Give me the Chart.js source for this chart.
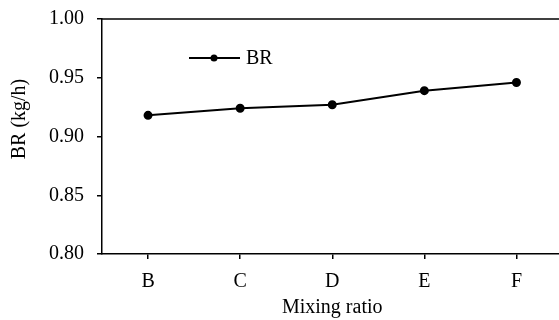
<!DOCTYPE html>
<html>
<head>
<meta charset="utf-8">
<script src="https://cdn.jsdelivr.net/npm/chart.js@4/dist/chart.umd.min.js"></script>
<style>
html,body{margin:0;padding:0;background:#fff;overflow:hidden;width:559px;height:320px;}
#wrap{width:568px;height:320px;}
</style>
</head>
<body>
<div id="wrap"><canvas id="c" width="568" height="320"></canvas></div>
<script>
const categories = ["B", "C", "D", "E", "F"];
const brValues = [0.918, 0.924, 0.927, 0.939, 0.946];
const yTicks = [0.80, 0.85, 0.90, 0.95, 1.00];
const seriesName = "BR";
const xTitle = "Mixing ratio";
const yTitle = "BR (kg/h)";

const FONT = "'Liberation Serif', 'Times New Roman', serif";

const frame = {
  id: 'frame',
  afterDraw(chart) {
    const {ctx, chartArea: a} = chart;
    ctx.save();
    ctx.strokeStyle = '#000';
    ctx.lineWidth = 1.5;
    ctx.beginPath();
    ctx.moveTo(a.left, a.top);
    ctx.lineTo(a.right + 5, a.top);
    ctx.stroke();
    // y title
    ctx.fillStyle = '#000';
    ctx.font = '20px ' + FONT;
    ctx.translate(20, 119);
    ctx.rotate(-Math.PI / 2);
    ctx.textAlign = 'center';
    ctx.textBaseline = 'middle';
    ctx.fillText(yTitle, 0, 0);
    ctx.restore();
    // legend
    ctx.save();
    const ly = 58, lx0 = 189, lx1 = 240;
    ctx.strokeStyle = '#000';
    ctx.lineWidth = 2;
    ctx.beginPath(); ctx.moveTo(lx0, ly); ctx.lineTo(lx1, ly); ctx.stroke();
    ctx.beginPath(); ctx.arc(214, ly, 3.5, 0, Math.PI * 2); ctx.fillStyle = '#000'; ctx.fill();
    ctx.font = '20px ' + FONT;
    ctx.textBaseline = 'middle';
    ctx.textAlign = 'left';
    ctx.fillText(seriesName, 246, ly + 1);
    ctx.restore();
  }
};

new Chart(document.getElementById('c'), {
  type: 'line',
  data: {
    labels: categories,
    datasets: [{
      label: seriesName,
      data: brValues,
      borderColor: '#000',
      backgroundColor: '#000',
      borderWidth: 2,
      pointRadius: 3.5,
      pointHoverRadius: 3.5,
      tension: 0
    }]
  },
  options: {
    responsive: false,
    animation: false,
    devicePixelRatio: 1,
    layout: { padding: { top: 19, right: 1, left: 0, bottom: 0 } },
    plugins: { legend: { display: false }, tooltip: { enabled: false } },
    scales: {
      x: {
        offset: true,
        grid: { display: true, drawOnChartArea: false, tickLength: 5, color: '#000', lineWidth: 1.5, offset: false },
        border: { display: true, color: '#000', width: 1.5 },
        ticks: { color: '#000', font: { family: FONT, size: 20 }, padding: 11, maxRotation: 0 },
        title: { display: true, text: xTitle, color: '#000', font: { family: FONT, size: 20 }, padding: { top: 3, bottom: 0 } },
        afterFit(s) { s.height = 66; s.paddingLeft = 0; s.paddingRight = 0; }
      },
      y: {
        min: 0.8, max: 1.0,
        afterBuildTicks(s) { s.ticks = yTicks.map(v => ({ value: v })); },
        grid: { display: true, drawOnChartArea: false, tickLength: 5, color: '#000', lineWidth: 1.5 },
        border: { display: true, color: '#000', width: 1.5 },
        ticks: { color: '#000', font: { family: FONT, size: 20 }, padding: 13, callback: v => Number(v).toFixed(2) },
        afterFit(s) { s.width = 102; s.paddingTop = 0; s.paddingBottom = 0; }
      }
    }
  },
  plugins: [frame]
});
</script>
</body>
</html>
